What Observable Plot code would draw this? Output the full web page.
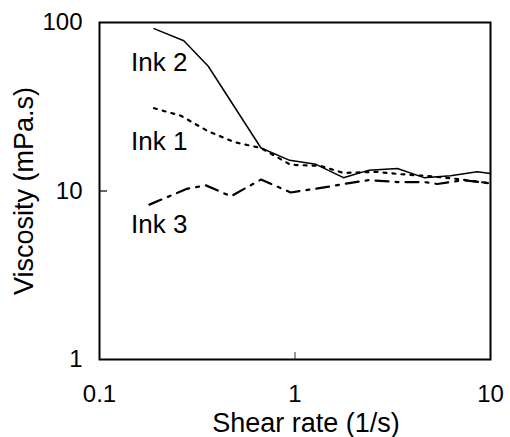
<!DOCTYPE html>
<html>
<head>
<meta charset="utf-8">
<script src="https://cdn.jsdelivr.net/npm/d3@7"></script>
<script src="https://cdn.jsdelivr.net/npm/@observablehq/plot@0.6"></script>
<style>
  html, body { margin: 0; padding: 0; background: #fff; }
  #chart { width: 510px; height: 437px; }
  svg { font-family: Arial, "Liberation Sans", sans-serif; }
</style>
</head>
<body>
<div id="chart"></div>
<script>
// Ink 2 (solid)
const ink2X = [0.19, 0.27, 0.36, 0.67, 0.94, 1.28, 1.77, 2.39, 3.34, 4.57, 6.25, 8.55, 10];
const ink2Y = [92, 78, 55, 18, 15.2, 14.4, 12.0, 13.3, 13.6, 12.0, 12.3, 13.0, 12.7];
// Ink 1 (dotted)
const ink1X = [0.19, 0.26, 0.36, 0.49, 0.67, 0.95, 1.35, 1.77, 2.6, 3.4, 4.6, 6.3, 8.9, 10];
const ink1Y = [31, 28, 22.6, 19.5, 18, 14.3, 14.1, 12.8, 13.0, 12.6, 12.3, 11.9, 11.3, 11.1];
// Ink 3 (dash-dot)
const ink3X = [0.18, 0.28, 0.35, 0.47, 0.67, 0.95, 1.41, 1.86, 2.39, 3.34, 4.57, 5.35, 7.3, 10];
const ink3Y = [8.3, 10.3, 10.8, 9.3, 11.7, 9.8, 10.5, 11.1, 11.6, 11.3, 11.3, 11.0, 11.6, 11.1];

const xTicks = [0.1, 1, 10];
const yTicks = [1, 10, 100];
const seriesNames = ["Ink 2", "Ink 1", "Ink 3"];
const labelX = [0.145, 0.145, 0.145];
const labelY = [58, 19.7, 6.33];

const toRows = (xs, ys) => xs.map((x, i) => ({x, y: ys[i]}));
const labels = seriesNames.map((name, i) => ({name, x: labelX[i], y: labelY[i]}));

const chart = Plot.plot({
  width: 510,
  height: 437,
  marginLeft: 99,
  marginRight: 20,
  marginTop: 22,
  marginBottom: 78,
  style: {fontFamily: 'Arial, "Liberation Sans", sans-serif', fontSize: "24px", background: "white", color: "black"},
  x: {type: "log", domain: [0.1, 10]},
  y: {type: "log", domain: [1, 100]},
  marks: [
    Plot.axisX({ticks: xTicks, tickSize: 0, tickPadding: 25, tickFormat: d => String(d), fontSize: 24, label: null}),
    Plot.axisX({ticks: [1], tickSize: -7, tickFormat: () => "", label: null, strokeWidth: 1.2, stroke: "#555"}),
    Plot.axisY({ticks: yTicks, tickSize: 0, tickPadding: 17, tickFormat: d => String(d), fontSize: 24, label: null}),
    Plot.axisY({ticks: [10], tickSize: -8, tickFormat: () => "", label: null, strokeWidth: 1.2}),
    Plot.text(["Shear rate (1/s)"], {frameAnchor: "bottom", lineAnchor: "middle", textAnchor: "middle", dy: 64, dx: 11, fontSize: 27, text: d => d}),
    Plot.text(["Viscosity (mPa.s)"], {frameAnchor: "left", lineAnchor: "middle", textAnchor: "middle", dx: -75, rotate: -90, fontSize: 27, text: d => d}),
    Plot.line(toRows(ink2X, ink2Y), {x: "x", y: "y", stroke: "black", strokeWidth: 1.5}),
    Plot.line(toRows(ink1X, ink1Y), {x: "x", y: "y", stroke: "black", strokeWidth: 2.2, strokeDasharray: "3,6"}),
    Plot.line(toRows(ink3X, ink3Y), {x: "x", y: "y", stroke: "black", strokeWidth: 2.2, strokeDasharray: "13,7,3,7"}),
    Plot.text(labels, {x: "x", y: "y", text: "name", textAnchor: "start", fontSize: 26}),
    Plot.frame({stroke: "black", strokeWidth: 2})
  ]
});
document.getElementById("chart").appendChild(chart);
</script>
</body>
</html>
